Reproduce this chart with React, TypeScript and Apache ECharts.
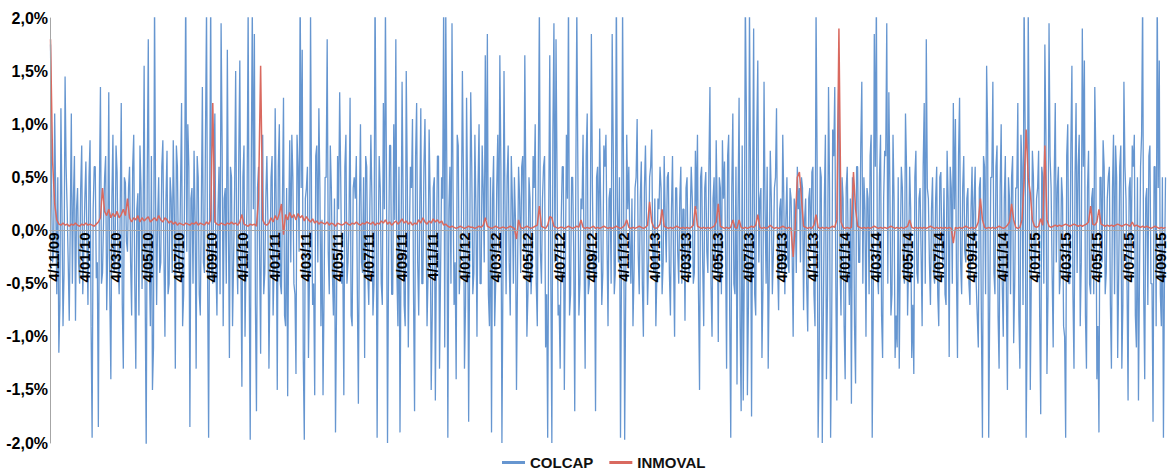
import { useEffect, useRef } from "react";
import * as echarts from "echarts";

// ---- sampling of the daily series ----
const firstSampleDate = "2009-10-30";
const colcapStepDays = 2; // COLCAP read every 2 calendar days
const inmovalStepDays = 4; // INMOVAL read every 4 calendar days
const axisStartDate = "2009-10-29";
const axisEndDate = "2015-09-12";

// ---- x tick labels (d/mm/yy) ----
const dateTickLabels = [
  "4/11/09", "4/01/10", "4/03/10", "4/05/10", "4/07/10", "4/09/10", "4/11/10",
  "4/01/11", "4/03/11", "4/05/11", "4/07/11", "4/09/11", "4/11/11",
  "4/01/12", "4/03/12", "4/05/12", "4/07/12", "4/09/12", "4/11/12",
  "4/01/13", "4/03/13", "4/05/13", "4/07/13", "4/09/13", "4/11/13",
  "4/01/14", "4/03/14", "4/05/14", "4/07/14", "4/09/14", "4/11/14",
  "4/01/15", "4/03/15", "4/05/15", "4/07/15", "4/09/15",
];

const seriesNames = ["COLCAP", "INMOVAL"];

// ---- COLCAP daily returns, %, readings on days 0,4,8,... ----
const colcapNov09Sep10 = [
  1.75, -0.3, 1.1, -0.6, -1.15, 1.15, -0.9, 1.45, 0.2, -0.85, 1.1, 0.3, -0.85, 0.4, -0.5, 0.8,
  -0.2, 0.65, -0.7, 0.85, -1.95, 0.6, -0.45, -1.85, 1.35, -0.4, 0.5, -0.75, 1.3, -1.4, 0.9, -0.3,
  0.55, -0.6, 1.2, -1.3, 0.45, -0.2, 0.6, -0.8, 0.9, -1.3, 0.35, 0.8, -0.55, 1.55, -2.05, 1.8,
  -0.9, -1.5, 2.2, -0.7, 0.5, -0.3, 0.85, -1.0, 0.75, -0.5, 0.3, 0.85, -1.3, 0.6, -0.4, 1.2,
  -0.6, 2.3, 1.0, -1.85, 0.4, 0.75, -1.3, 0.5, -0.8, 1.35, -0.4, 2.1, -1.95,
];
const colcapSep10Jul11 = [
  2.2, -0.5, 1.1, -0.8, 0.6, 1.95, -0.9, 0.4, 1.7, -1.2, 0.5, -0.3, 1.5, -0.6, 1.6, -1.47,
  0.8, -0.2, 2.1, -1.97, 2.1, 1.85, -1.7, 0.6, -1.16, 0.9, -0.4, 0.7, -1.3, 0.5, -0.8, 1.15,
  -1.5, 1.0, -0.6, 1.25, -0.9, -1.56, 0.85, 0.9, -0.5, -1.35, 0.6, 2.3, 1.7, -1.97, 0.4, -1.2,
  2.05, -0.7, -1.55, 0.8, 1.15, -0.9, -1.55, 0.5, 1.8, -0.6, 0.4, -0.8, -1.9, 0.7, 1.3, -0.5,
  -1.55, 0.9, -0.3, 1.25, -0.9, 0.5, 0.7, -1.63, 1.0, -0.4, -1.2, 0.6, -0.7,
];
const colcapJul11May12 = [
  0.9, -0.8, 2.3, -1.95, 0.7, -0.5, 1.2, 2.1, -2.0, 0.8, -0.6, 1.0, 1.8, -0.9, -1.9, 1.4,
  -0.7, 1.5, -1.1, 0.6, 1.05, -1.7, 1.2, -0.8, 1.15, -0.5, 1.05, -0.9, 0.95, -1.5, 0.4, -1.6,
  0.7, -1.3, 0.5, 2.2, 2.1, -1.95, 0.6, 1.95, -0.7, -1.4, 0.8, -0.3, 1.5, -1.3, 1.25, -1.8,
  1.3, -0.6, 0.9, -1.0, 1.0, -0.5, 0.4, 1.65, 1.85, -0.9, -1.9, 0.7, -0.5, 0.9, 1.65, -2.0,
  1.5, -0.6, 0.8, -0.8, 0.3, 0.5, -1.5, 0.6, -0.4, 0.7, 1.65, -1.0, 0.5,
];
const colcapMay12Mar13 = [
  -0.6, 0.7, 1.0, -0.9, 2.1, -0.5, 0.6, -1.1, -1.95, 1.65, -2.0, 1.95, 1.8, -0.8, -1.3, 0.6,
  -1.5, 0.9, 2.2, -0.6, 0.5, -1.7, 2.1, -0.8, 0.3, 0.9, -1.3, 1.1, -0.5, 1.85, -0.4, -1.7,
  0.6, 0.96, -0.7, 0.8, 0.9, -0.9, 0.4, 1.85, -0.6, 2.3, -0.3, -1.95, 2.1, -1.97, 0.9, 0.6,
  -0.5, -0.9, 0.4, 1.05, -0.6, 0.65, -1.0, 0.8, -0.7, 0.5, 0.95, -0.4, -0.9, 0.3, 0.6, -0.6,
  0.7, -0.3, 0.55, -0.8, 0.7, -1.0, 0.4, -0.5, 0.6, 0.2, -0.85, 0.5, -0.4,
];
const colcapMar13Jan14 = [
  0.6, -0.5, 0.75, 0.9, -1.5, 0.6, -0.9, 0.55, -0.4, 1.35, -1.0, 0.5, 0.85, -1.05, 0.4, 0.85,
  0.65, -1.3, 0.9, -1.95, 1.1, -0.6, -1.45, 1.25, -1.7, -1.6, 2.2, -1.55, 2.1, -1.75, 1.9, -0.8,
  1.6, 0.3, -1.2, 1.4, -0.5, -1.3, 0.75, -0.6, 0.4, 1.15, -0.75, 0.3, 0.9, -0.6, 0.5, -0.4,
  0.3, -1.0, 0.2, 0.6, 0.4, 0.5, -0.75, 0.3, -0.95, 0.4, 0.55, -0.6, 2.1, -1.95, 0.6, -2.0,
  0.3, -1.4, 1.35, -1.95, 0.95, 1.35, -1.6, 1.55, -0.8, 0.3, -1.4, 0.6, -0.7,
];
const colcapJan14Nov14 = [
  -1.63, 0.4, -1.44, 0.6, -0.3, 1.4, 0.5, -1.0, 0.3, 0.7, -1.95, 1.85, 2.2, -0.6, 0.9, -1.2,
  0.75, 1.95, 1.3, -0.8, 0.9, -1.2, -1.1, -1.3, 0.6, -0.4, 1.1, -0.8, 0.6, -1.2, -1.35, 0.75,
  -0.5, 0.4, -0.9, 1.2, 1.8, 0.3, -0.7, 0.5, -0.5, 0.6, -0.9, 0.55, -0.3, -0.6, 0.75, -1.19,
  0.4, 1.2, 1.05, -1.2, 1.25, -0.6, 0.7, -0.3, 0.4, -0.7, 0.6, 0.3, -0.5, -1.1, 0.5, -1.95,
  0.6, 1.55, -1.95, 0.5, 1.4, -0.6, 0.8, -1.3, 1.0, -1.0, 0.7, -1.5,
];
const colcapNov14Sep15 = [
  0.3, 0.5, -1.06, 0.4, 1.2, -1.3, 0.6, 2.2, -1.95, 2.1, -1.5, 0.75, -0.4, 0.3, 0.75, -1.73,
  0.5, 1.75, -1.35, 1.95, 0.4, -1.1, 1.2, 0.4, -0.6, 0.5, -0.9, -1.95, 1.0, -0.5, 1.55, -1.3,
  1.2, 0.6, -0.9, 1.9, 1.6, -1.3, 0.75, -0.6, 0.4, 1.35, -1.4, -1.9, 0.5, 0.85, -0.6, 0.3,
  0.6, -1.3, 0.9, 0.8, -1.2, 0.6, -1.3, 1.4, 0.3, -1.6, 0.5, 0.8, 0.9, -1.1, -1.6, 0.6,
  2.2, -1.4, 0.4, 0.7, -0.5, -1.8, 0.6, 2.3, 1.6, -0.9, -1.95, 0.5,
];

// ---- COLCAP daily returns, %, readings on days 2,6,10,... (in between) ----
const colcapMidNov09Sep10 = [
  0.4, -0.2, 0.3, 0.5, -0.7, 0.2, -0.4, 0.6, -0.3, 0.1, -0.5, 0.7, 0.2, -0.3, 0.4, -0.6,
  0.3, -0.1, 0.5, -0.9, 0.2, 0.6, -0.3, 0.4, -0.5, 0.1, 0.7, -0.2, -0.6, 0.3, -0.4, 0.8,
  -0.3, 0.2, -0.7, 0.5, -0.1, 0.4, -0.3, 0.6, -0.5, 0.2, -0.8, 0.4, 0.1, -0.6, 0.5, -0.3,
  0.7, -1.1, 0.3, 0.1, -0.4, 0.6, -0.2, 0.3, -0.6, 0.5, -0.4, 0.2, 0.8, -0.3, 0.4, -0.9,
  0.5, -0.2, 0.6, 0.3, -0.5, 0.1, 0.7, -0.6, 0.2, -0.3, 0.9, -0.4, 0.3,
];
const colcapMidSep10Jul11 = [
  -0.4, 0.5, -0.3, 0.2, -0.6, 0.8, 0.3, -0.5, 0.1, 0.6, -0.9, 0.4, -0.2, 0.7, -0.3, 0.5,
  -1.0, 0.3, -0.4, 0.6, 0.2, -0.7, 0.4, -0.2, 0.5, -0.6, 0.3, 0.1, -0.4, 0.7, -0.3, 0.2,
  0.6, -0.5, 0.3, -0.8, 0.4, 0.1, -0.3, 0.5, -0.6, 0.9, -0.2, 0.4, -1.2, 0.3, 0.6, -0.4,
  0.2, -0.5, 0.7, -0.3, 0.4, 0.1, -0.6, 0.5, -0.2, 0.8, -0.4, 0.3, -0.7, 0.2, 0.5, -0.3,
  0.6, -0.5, 0.1, -0.8, 0.4, 0.3, -0.6, 0.2, -0.3, 0.5, 0.7, -0.4, 0.2,
];
const colcapMidJul11May12 = [
  0.3, -0.5, 0.6, -0.2, 0.4, -0.7, 0.2, 0.5, -0.3, 0.8, -0.6, 0.1, -0.4, 0.6, -0.2, 0.3,
  -0.9, 0.5, -0.1, 0.4, -0.6, 0.7, -0.3, 0.2, -0.5, 0.6, 0.1, -0.4, 0.3, -0.8, 0.5, -0.2,
  0.7, -0.4, 0.3, -1.1, 0.6, 0.2, -0.5, 0.4, -0.3, 0.9, -0.6, 0.1, 0.5, -0.7, 0.3, -0.2,
  0.6, -0.4, 0.2, 0.4, -0.5, 0.8, -0.3, 0.1, -0.6, 0.5, 0.3, -0.9, 0.4, -0.2, 0.6, -0.4,
  0.2, 0.5, -0.3, 0.7, -0.5, 0.1, -0.4, 0.3, 0.6, -0.2, 0.4, -0.6, 0.3,
];
const colcapMidMay12Mar13 = [
  -0.3, 0.4, -0.5, 0.6, -0.2, 0.3, 0.7, -0.6, 0.2, -0.4, 0.9, -0.3, 0.5, -0.7, 0.1, 0.6,
  -0.4, 0.3, -0.8, 0.5, -0.2, 0.4, 0.6, -0.5, 0.2, -0.3, 0.7, -0.6, 0.1, 0.4, -0.2, 0.5,
  -0.3, 0.2, -0.4, 0.6, -0.1, 0.3, -0.5, 0.8, -0.4, 0.2, 0.5, -0.3, 0.4, -0.6, 0.2, -0.1,
  0.3, -0.4, 0.5, -0.2, 0.3, -0.5, 0.4, 0.1, -0.3, 0.6, -0.2, 0.3, -0.4, 0.2, 0.4, -0.3,
  0.1, 0.5, -0.4, 0.2, -0.3, 0.4, -0.2, 0.3, -0.5, 0.2, 0.4, -0.3, 0.1,
];
const colcapMidMar13Jan14 = [
  0.3, -0.4, 0.2, -0.6, 0.5, -0.3, 0.4, -0.2, 0.6, -0.5, 0.3, -0.4, 0.2, 0.5, -0.6, 0.3,
  -0.2, 0.7, -0.8, 0.4, -0.5, 0.6, 0.2, -0.9, 0.8, -0.4, 1.1, -0.7, 0.5, 0.3, -0.6, 0.9,
  -0.3, 0.4, -0.5, 0.2, 0.6, -0.4, 0.3, -0.2, 0.5, -0.3, 0.2, -0.4, 0.3, 0.1, -0.3, 0.4,
  -0.2, 0.3, -0.4, 0.2, -0.3, 0.4, 0.1, -0.5, 0.3, -0.2, 0.6, -0.9, 0.7, -1.2, 0.5, -0.8,
  0.9, -0.6, 0.4, -1.0, 0.7, -0.5, 0.8, -0.3, 0.5, -0.9, 0.4, -0.2, 0.3,
];
const colcapMidJan14Nov14 = [
  0.5, -0.9, 0.6, -0.3, 0.8, -0.5, 0.2, 0.4, -0.6, 0.9, -0.7, 0.6, -0.4, 0.5, -0.8, 0.3,
  0.7, -0.5, 0.4, -0.6, 0.3, -0.8, 0.5, -0.2, 0.4, -0.5, 0.6, -0.3, 0.2, -0.7, 0.5, -0.4,
  0.3, -0.2, 0.6, -0.5, 0.4, -0.3, 0.2, -0.4, 0.3, -0.6, 0.5, -0.2, 0.4, -0.7, 0.3, 0.6,
  -0.5, 0.2, -0.4, 0.7, -0.3, 0.4, -0.2, 0.3, -0.5, 0.2, -0.3, 0.6, -0.8, 0.4, -0.9, 0.7,
  -0.6, 0.9, -0.7, 0.5, -0.4, 0.6, -0.8, 0.4, -0.5, 0.3, -0.6, 0.5,
];
const colcapMidNov14Sep15 = [
  -0.6, 0.7, -0.5, 0.4, -0.8, 0.9, -0.7, 1.0, -0.9, 0.6, -0.4, 0.5, -0.3, 0.4, -0.8, 0.6,
  -0.5, 0.9, -0.6, 0.7, -0.4, 0.5, -0.3, 0.6, -0.4, 0.3, -1.0, 0.7, -0.5, 0.8, -0.6, 0.5,
  -0.4, 0.9, -0.3, 0.6, -0.8, 0.4, -0.5, 0.3, -0.6, 0.7, -0.9, 0.5, -0.3, 0.6, -0.4, 0.5,
  -0.7, 0.4, -0.6, 0.5, -0.4, 0.8, -0.7, 0.6, -0.5, 0.4, -0.3, 0.6, -0.8, 0.5, -0.4, 0.9,
  -0.6, 0.3, -0.7, 0.8, -0.5, 0.6, -0.9, 0.4, -0.6, 0.5, -0.4,
];

// ---- INMOVAL daily returns, %, readings every 4 days ----
const inmovalNov09Sep10 = [
  1.8, 0.65, 0.25, 0.1, 0.06, 0.05, 0.07, 0.05, 0.06, 0.04, 0.06, 0.05, 0.07, 0.05, 0.04, 0.06,
  0.05, 0.07, 0.05, 0.06, 0.05, 0.04, 0.06, 0.08, 0.12, 0.4, 0.18, 0.14, 0.2, 0.12, 0.16, 0.13,
  0.18, 0.12, 0.15, 0.2, 0.14, 0.3, 0.12, 0.08, 0.12, 0.1, 0.14, 0.08, 0.12, 0.09, 0.11, 0.13,
  0.08, 0.1, 0.12, 0.09, 0.14, 0.1, 0.08, 0.12, 0.1, 0.07, 0.09, 0.06, 0.08, 0.05, 0.07, 0.06,
  0.05, 0.07, 0.06, 0.05, 0.07, 0.06, 0.08, 0.05, 0.07, 0.06, 0.05, 0.08, 0.06,
];
const inmovalSep10Jul11 = [
  0.1, 1.2, 0.08, 0.06, 0.05, 0.07, 0.06, 0.05, 0.07, 0.06, 0.08, 0.06, 0.07, 0.05, 0.08, 0.15,
  0.06, 0.05, 0.04, 0.06, 0.05, 0.06, 0.04, 0.3, 1.55, 0.1, 0.06, 0.05, 0.07, 0.12, 0.08, 0.14,
  0.1, 0.16, 0.25, -0.04, 0.15, 0.1, 0.17, 0.12, 0.15, 0.1, 0.16, 0.12, 0.14, 0.09, 0.13, 0.1,
  0.08, 0.11, 0.07, 0.09, 0.06, 0.08, 0.07, 0.06, 0.08, 0.05, 0.07, 0.06, 0.04, 0.07, 0.06, 0.05,
  0.06, 0.08, 0.06, 0.05, 0.07, 0.06, 0.08, 0.06, 0.05, 0.07, 0.06, 0.08, 0.07,
];
const inmovalJul11May12 = [
  0.06, 0.08, 0.05, 0.07, 0.06, 0.09, 0.07, 0.1, 0.06, 0.08, 0.05, 0.07, 0.09, 0.06, 0.08, 0.11,
  0.07, 0.09, 0.06, 0.08, 0.05, 0.07, 0.06, 0.1, 0.07, 0.12, 0.08, 0.06, 0.09, 0.07, 0.11, 0.08,
  0.1, 0.07, 0.09, 0.05, 0.06, 0.04, 0.03, 0.04, 0.03, 0.02, 0.03, 0.04, 0.03, 0.02, 0.03, 0.04,
  0.03, 0.03, 0.02, 0.03, 0.04, 0.03, 0.05, 0.12, 0.04, 0.03, 0.02, 0.03, 0.04, 0.03, 0.02, 0.03,
  0.03, 0.02, 0.03, 0.04, 0.03, 0.02, -0.08, 0.1, 0.03, 0.02, 0.03, 0.04, 0.03,
];
const inmovalMay12Mar13 = [
  0.02, 0.03, 0.04, 0.05, 0.23, 0.04, 0.03, 0.02, 0.05, 0.13, 0.12, 0.04, 0.03, 0.02, 0.03, 0.03,
  0.02, 0.03, 0.04, 0.03, 0.02, 0.03, 0.04, 0.03, 0.1, 0.03, 0.02, 0.03, 0.02, 0.03, 0.04, 0.02,
  0.03, 0.02, 0.03, 0.04, 0.03, 0.02, 0.03, 0.02, 0.03, 0.04, 0.03, 0.02, 0.03, 0.05, 0.1, 0.03,
  0.02, 0.03, 0.02, 0.03, 0.04, 0.03, 0.02, 0.03, 0.05, 0.27, 0.08, 0.03, 0.02, 0.03, 0.06, 0.2,
  0.04, 0.03, 0.02, 0.03, 0.02, 0.03, 0.04, 0.03, 0.02, 0.03, 0.02, 0.03, 0.02,
];
const inmovalMar13Jan14 = [
  0.03, 0.05, 0.23, 0.04, 0.03, 0.02, 0.03, 0.02, 0.03, 0.02, 0.03, 0.04, 0.08, 0.25, 0.04, 0.03,
  0.02, 0.03, 0.02, 0.03, 0.1, 0.03, 0.02, 0.1, 0.03, 0.02, 0.03, 0.02, 0.03, 0.04, 0.03, 0.05,
  0.15, 0.03, 0.02, 0.03, 0.02, 0.03, 0.05, 0.03, 0.02, 0.03, 0.02, 0.03, 0.04, 0.03, 0.02, 0.03,
  0.02, -0.25, 0.05, 0.5, 0.55, 0.3, 0.04, 0.03, 0.02, 0.03, 0.02, 0.05, 0.15, 0.03, 0.02, 0.03,
  0.02, 0.03, 0.02, 0.03, 0.04, 0.03, 0.1, 1.9, 0.08, 0.03, 0.02, 0.03, 0.02,
];
const inmovalJan14Nov14 = [
  0.03, 0.55, 0.2, 0.04, 0.03, 0.02, 0.03, 0.02, 0.03, 0.02, 0.03, 0.04, 0.03, 0.02, 0.03, 0.02,
  0.03, 0.02, 0.03, 0.04, 0.03, 0.02, 0.03, 0.02, 0.03, 0.02, 0.03, 0.04, 0.1, 0.03, 0.02, 0.03,
  0.02, 0.03, 0.02, 0.03, 0.02, 0.03, 0.04, 0.03, 0.02, 0.03, 0.02, 0.03, 0.02, 0.03, 0.02, 0.03,
  0.02, -0.12, 0.03, 0.02, 0.03, 0.02, 0.03, 0.04, 0.03, 0.02, 0.03, 0.02, 0.03, 0.08, 0.3, 0.1,
  0.03, 0.02, 0.03, 0.02, 0.03, 0.02, 0.03, 0.04, 0.03, 0.02, 0.03, 0.05,
];
const inmovalNov14Sep15 = [
  0.08, 0.25, 0.1, 0.03, 0.02, 0.03, 0.1, 0.45, 0.95, 0.5, 0.35, 0.1, 0.04, 0.03, 0.04, 0.11,
  0.05, 0.8, 0.1, 0.04, 0.03, 0.04, 0.05, 0.04, 0.05, 0.04, 0.05, 0.06, 0.05, 0.04, 0.05, 0.06,
  0.05, 0.04, 0.05, 0.04, 0.05, 0.06, 0.08, 0.23, 0.06, 0.05, 0.08, 0.2, 0.06, 0.05, 0.04, 0.05,
  0.04, 0.05, 0.04, 0.05, 0.06, 0.05, 0.04, 0.05, 0.06, 0.05, 0.04, 0.08, 0.04, 0.05, 0.04, 0.03,
  0.04, 0.03, 0.04, 0.03, 0.02, 0.03, 0.04, 0.03, 0.02, 0.03, 0.02, 0.03,
];

const colcapMain = [
  ...colcapNov09Sep10, ...colcapSep10Jul11, ...colcapJul11May12, ...colcapMay12Mar13,
  ...colcapMar13Jan14, ...colcapJan14Nov14, ...colcapNov14Sep15,
];
const colcapMid = [
  ...colcapMidNov09Sep10, ...colcapMidSep10Jul11, ...colcapMidJul11May12, ...colcapMidMay12Mar13,
  ...colcapMidMar13Jan14, ...colcapMidJan14Nov14, ...colcapMidNov14Sep15,
];
// chronological order: main reading, then the one two days later
const colcapValues: number[] = [];
colcapMain.forEach((v, i) => {
  colcapValues.push(v);
  if (i < colcapMid.length) colcapValues.push(colcapMid[i]);
});
const inmovalValues = [
  ...inmovalNov09Sep10, ...inmovalSep10Jul11, ...inmovalJul11May12, ...inmovalMay12Mar13,
  ...inmovalMar13Jan14, ...inmovalJan14Nov14, ...inmovalNov14Sep15,
];

const DAY = 86400000;
const isoToUtc = (s: string) => {
  const [y, m, d] = s.split("-").map(Number);
  return Date.UTC(y, m - 1, d);
};
const labelToUtc = (s: string) => {
  const [d, m, yy] = s.split("/").map(Number);
  return Date.UTC(2000 + yy, m - 1, d);
};

const FONT = "'Liberation Sans', Arial, Helvetica, sans-serif";
const GRID_TOP = 18;
const GRID_BOTTOM = 27;
const CHART_H = 470;

export default function App() {
  const ref = useRef<HTMLDivElement>(null);

  useEffect(() => {
    if (!ref.current) return;
    const chart = echarts.init(ref.current, undefined, { renderer: "svg" });

    const t0 = isoToUtc(firstSampleDate);
    const toPairs = (vals: number[], step: number) =>
      vals.map((v, i) => [t0 + i * step * DAY, v]);

    const tickTimes = dateTickLabels.map(labelToUtc);
    const tickMap = new Map<number, string>();
    dateTickLabels.forEach((l, i) => tickMap.set(tickTimes[i], l));

    // lift the date axis from the grid bottom to the 0 % line
    const plotH = CHART_H - GRID_TOP - GRID_BOTTOM;

    chart.setOption({
      animation: false,
      backgroundColor: "#ffffff",
      grid: {
        left: 50,
        right: 4,
        top: GRID_TOP,
        bottom: GRID_BOTTOM,
        containLabel: false,
        outerBoundsMode: "none",
      },
      legend: {
        data: seriesNames,
        left: 502,
        top: 455,
        padding: 0,
        icon: "rect",
        itemWidth: 23,
        itemHeight: 3,
        itemGap: 16,
        textStyle: { fontFamily: FONT, fontWeight: "bold", fontSize: 15, color: "#111" },
      },
      xAxis: {
        type: "value",
        position: "bottom",
        offset: -plotH / 2,
        z: 10,
        min: isoToUtc(axisStartDate),
        max: isoToUtc(axisEndDate),
        axisLine: { show: true, onZero: false, lineStyle: { color: "#a6a6a6", width: 1 } },
        axisTick: { show: false, customValues: tickTimes },
        splitLine: { show: false },
        axisLabel: {
          customValues: tickTimes,
          rotate: 90,
          margin: 2,
          lineHeight: 14,
          hideOverlap: false,
          showMinLabel: true,
          showMaxLabel: true,
          fontFamily: FONT,
          fontWeight: "bold",
          fontSize: 15,
          color: "#000",
          formatter: (v: number) => tickMap.get(v) ?? "",
        },
      },
      yAxis: {
        type: "value",
        min: -2,
        max: 2,
        interval: 0.5,
        z: 10,
        axisLine: { show: true, lineStyle: { color: "#a6a6a6", width: 1 } },
        axisTick: { show: false },
        splitLine: { show: false },
        axisLabel: {
          margin: 2,
          fontFamily: FONT,
          fontWeight: "bold",
          fontSize: 16,
          color: "#000",
          formatter: (v: number) => v.toFixed(1).replace(".", ",") + "%",
        },
      },
      series: [
        {
          name: seriesNames[0],
          type: "line",
          data: toPairs(colcapValues, colcapStepDays),
          showSymbol: false,
          symbol: "none",
          clip: true,
          color: "#6696d0",
          lineStyle: { color: "#6696d0", width: 1.3 },
          z: 2,
        },
        {
          name: seriesNames[1],
          type: "line",
          data: toPairs(inmovalValues, inmovalStepDays),
          showSymbol: false,
          symbol: "none",
          clip: true,
          color: "#d9695f",
          lineStyle: { color: "#d9695f", width: 1.5 },
          z: 3,
        },
      ],
    });

    return () => chart.dispose();
  }, []);

  return (
    <div
      ref={ref}
      style={{ position: "fixed", left: 0, top: 0, width: 1169, height: 470, background: "#fff" }}
    />
  );
}
